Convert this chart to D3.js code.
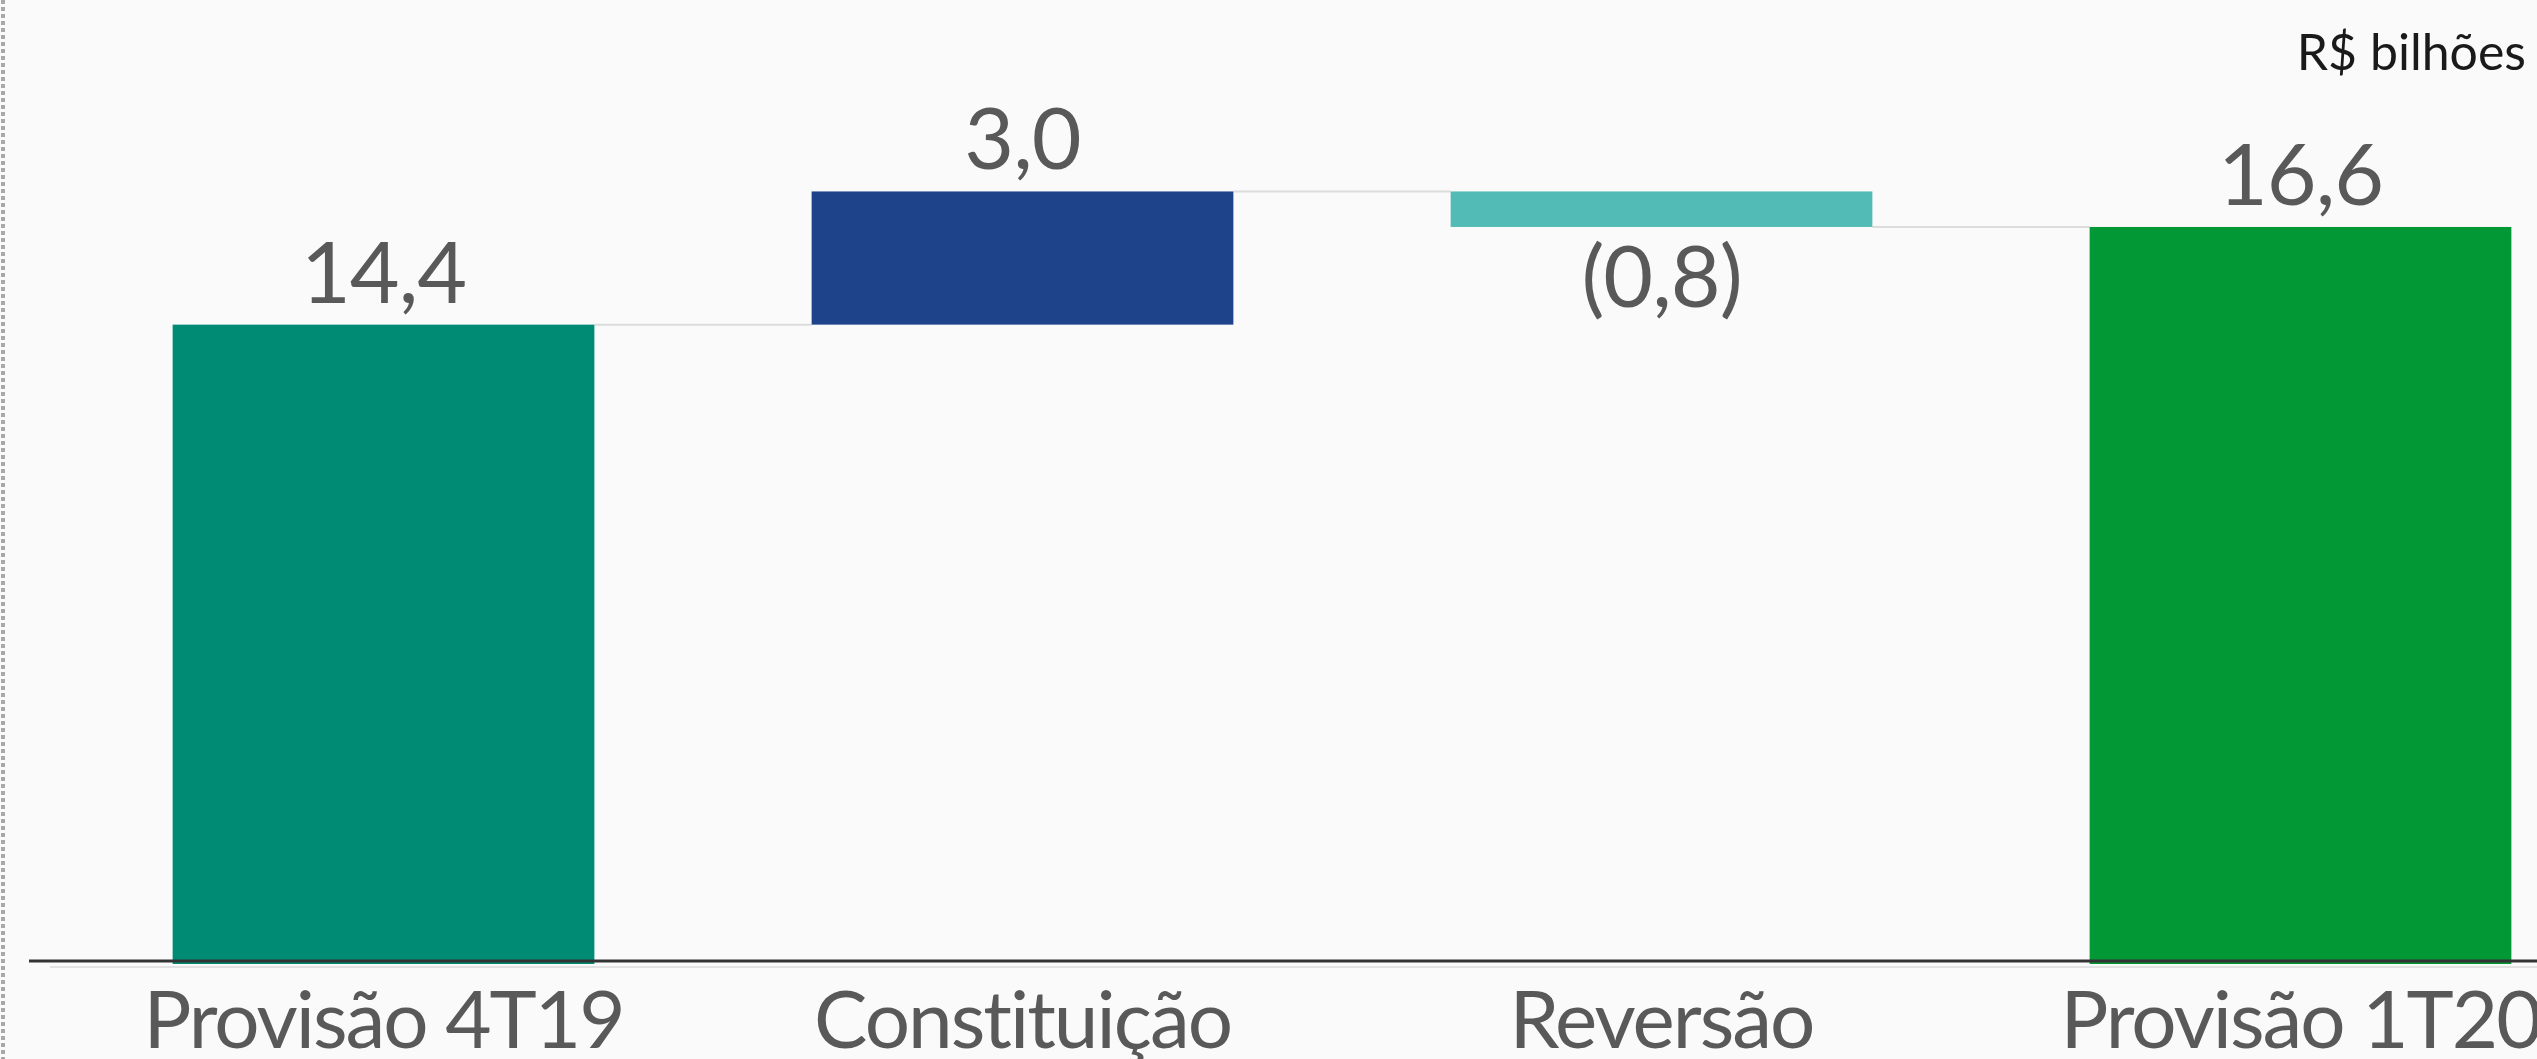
<html>
<head>
  <meta charset="utf-8">
  <style>
    body { margin: 0; background: #fafafa; }
    svg text { font-family: Lato, "Open Sans", sans-serif; font-weight: 400; }
    svg .value { font-size: 86px; fill: #595959; letter-spacing: -1px; }
    svg .cat { font-size: 80px; fill: #595959; letter-spacing: -2px; }
    svg .unit { font-size: 50px; fill: #1a1a1a; }
    svg .connector { stroke: #dcdcdc; stroke-width: 2px; }
    svg .baseline { stroke: #333; stroke-width: 3px; }
  </style>
</head>
<body>
  <div id="chart"></div>
  <script src="https://cdn.jsdelivr.net/npm/d3@7"></script>
  <script>
  // data (R$ bilhões)
  var categories = ["Provisão 4T19", "Constituição", "Reversão", "Provisão 1T20"];
  var values     = [14.4, 3.0, -0.8, 16.6];
  var kinds      = ["total", "delta", "delta", "total"];
  var valueText  = ["14,4", "3,0", "(0,8)", "16,6"];
  var barColors  = ["#008c74", "#1f438b", "#53bbb6", "#029835"];

  var width = 2537, height = 1059;

  var svg = d3.select("#chart")
    .append("svg")
      .attr("width", width)
      .attr("height", height);

  svg.append("rect")
    .attr("width", width)
    .attr("height", height)
    .attr("fill", "#fafafa");

  // dotted frame edge on the left
  svg.append("line")
    .attr("x1", 3).attr("y1", 0)
    .attr("x2", 3).attr("y2", height)
    .attr("stroke", "#a8a8a8")
    .attr("stroke-width", 4)
    .attr("stroke-dasharray", "4,3");

  var x = d3.scaleBand()
    .domain(categories)
    .range([64, 2620])
    .paddingInner(0.34)
    .paddingOuter(0.17);

  var y = d3.scaleLinear()
    .domain([0, 20])
    .range([964, 76]);

  // running totals for the waterfall
  var run = 0;
  var bars = categories.map(function (c, i) {
    var v = values[i], lo, hi;
    if (kinds[i] === "total") {
      lo = 0; hi = v; run = v;
    } else {
      lo = Math.min(run, run + v); hi = Math.max(run, run + v); run = run + v;
    }
    return { cat: c, v: v, lo: lo, hi: hi, end: run, i: i };
  });

  // connectors between bars
  svg.selectAll("line.connector")
    .data(bars.slice(0, -1))
    .enter().append("line")
      .classed("connector", true)
      .attr("x1", function (d) { return x(d.cat) + x.bandwidth(); })
      .attr("x2", function (d) { return x(categories[d.i + 1]); })
      .attr("y1", function (d) { return y(d.end); })
      .attr("y2", function (d) { return y(d.end); });

  svg.selectAll("rect.bar")
    .data(bars)
    .enter().append("rect")
      .classed("bar", true)
      .attr("x", function (d) { return x(d.cat); })
      .attr("width", x.bandwidth())
      .attr("y", function (d) { return y(d.hi); })
      .attr("height", function (d) { return y(d.lo) - y(d.hi); })
      .attr("fill", function (d) { return barColors[d.i]; });

  // baseline axis
  svg.append("line")
    .classed("baseline", true)
    .attr("x1", 29).attr("x2", width)
    .attr("y1", y(0) - 3).attr("y2", y(0) - 3);
  svg.append("line")
    .attr("x1", 50).attr("x2", width)
    .attr("y1", y(0) + 3).attr("y2", y(0) + 3)
    .attr("stroke", "#e2e2e2")
    .attr("stroke-width", 2);

  // value labels: above for positives, below for negatives
  svg.selectAll("text.value")
    .data(bars)
    .enter().append("text")
      .classed("value", true)
      .attr("x", function (d) { return x(d.cat) + x.bandwidth() / 2; })
      .attr("y", function (d) { return d.v < 0 ? y(d.lo) + 80 : y(d.hi) - 22; })
      .attr("text-anchor", "middle")
      .text(function (d) { return valueText[d.i]; });

  // category labels
  svg.selectAll("text.cat")
    .data(categories)
    .enter().append("text")
      .classed("cat", true)
      .attr("x", function (d) { return x(d) + x.bandwidth() / 2; })
      .attr("y", 1048)
      .attr("text-anchor", "middle")
      .text(function (d) { return d; });

  svg.append("text")
    .classed("unit", true)
    .attr("x", 2526)
    .attr("y", 70)
    .attr("text-anchor", "end")
    .text("R$ bilhões");
  </script>
</body>
</html>
